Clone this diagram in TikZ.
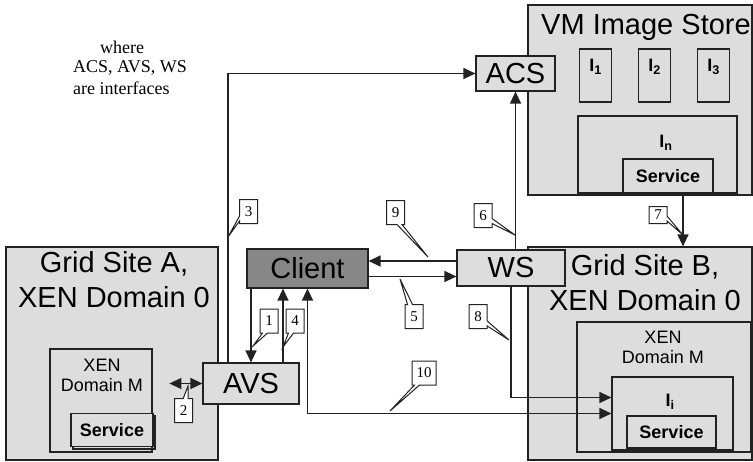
\documentclass[tikz,border=0pt]{standalone}
\usepackage{fontspec}
\setmainfont{Liberation Serif}
\setsansfont{Liberation Sans}
\usepackage{tikz}
\usetikzlibrary{arrows.meta,shapes.callouts}
\definecolor{boxgrey}{HTML}{DDDDDD}
\definecolor{clientgrey}{HTML}{878787}
\definecolor{edgecol}{HTML}{222222}

\begin{document}
\begin{tikzpicture}[x=1pt, y=-1pt,
      greybox/.style={draw=edgecol, line width=1.2pt, fill=boxgrey, inner sep=0pt},
      bigtxt/.style={font=\sffamily\fontsize{29}{35}\selectfont, align=center, inner sep=0pt},
      midtxt/.style={font=\sffamily\fontsize{18}{20}\selectfont, align=center, inner sep=0pt},
      svctxt/.style={font=\sffamily\bfseries\fontsize{18}{20}\selectfont},
      notetxt/.style={font=\fontsize{18}{20}\selectfont, anchor=west, inner sep=0pt},
      tag/.style={rectangle callout, draw=edgecol, line width=1pt, fill=white,
                  font=\fontsize{15}{15}\selectfont, inner sep=1pt,
                  minimum width=18pt, minimum height=24pt, callout pointer width=5pt},
      arr/.style={-{Triangle[length=12pt,width=11pt]}, line width=1.3pt, draw=edgecol},
      arrs/.style={{Triangle[length=12pt,width=11pt]}-{Triangle[length=12pt,width=11pt]},
                   line width=1.3pt, draw=edgecol}]

    \useasboundingbox (0,0) rectangle (753,461);

    % note
    \node[notetxt] (note1) at (100,47) {where};
    \node[notetxt] (note2) at (73,68) {ACS, AVS, WS};
    \node[notetxt] (note3) at (73,88) {are interfaces};

    % image store
    \node[greybox, minimum width=224pt, minimum height=190pt] (store) at (640,100) {};
    \node[bigtxt] (storetitle) at (646,27) {VM Image Store};
    \foreach \x/\i in {595.5/1, 654.5/2, 713.5/3}
    {
      \node[greybox, minimum width=32pt, minimum height=53pt] (img\i) at (\x,75.5) {};
      \node[midtxt, font=\sffamily\bfseries\fontsize{18}{20}\selectfont] at (\x,67) {I\textsubscript{\i}};
    }
    \node[greybox, minimum width=159pt, minimum height=77pt] (imgN) at (657.5,154.5) {};
    \node[midtxt, font=\sffamily\bfseries\fontsize{18}{20}\selectfont] (imgNlab) at (666,143) {I\textsubscript{n}};
    \node[greybox, svctxt, minimum width=90pt, minimum height=34pt] (svcN) at (668,176) {Service};
    \node[greybox, minimum width=79pt, minimum height=35pt, bigtxt] (acs) at (515.5,73.5) {ACS};

    % grid site B
    \node[greybox, minimum width=224pt, minimum height=213pt] (siteB) at (640,353.5) {};
    \node[bigtxt] (siteBtitle) at (645,283) {Grid Site B,\\XEN Domain 0};
    \node[greybox, minimum width=174pt, minimum height=130pt] (domB) at (664,387) {};
    \node[midtxt] (domBlab) at (663,347.5) {XEN\\Domain M};
    \node[greybox, minimum width=121pt, minimum height=73pt] (imgI) at (672.5,413.5) {};
    \node[midtxt, font=\sffamily\bfseries\fontsize{18}{20}\selectfont] (imgIlab) at (670,402) {I\textsubscript{i}};
    \node[greybox, svctxt, minimum width=89pt, minimum height=32pt] (svcI) at (671.5,432) {Service};
    \node[greybox, bigtxt, minimum width=108pt, minimum height=36pt] (ws) at (511,268) {WS};

    % grid site A
    \node[greybox, minimum width=212pt, minimum height=213pt] (siteA) at (112,353.5) {};
    \node[bigtxt] (siteAtitle) at (114,280) {Grid Site A,\\XEN Domain 0};
    \node[greybox, minimum width=102pt, minimum height=103pt] (domA) at (101,400.5) {};
    \node[midtxt] (domAlab) at (102,375) {XEN\\Domain M};
    \draw[edgecol, line width=1.2pt] (73,416) rectangle (155,449);
    \node[greybox, svctxt, minimum width=82pt, minimum height=33pt] (svcA) at (112,430) {Service};
    \node[greybox, bigtxt, minimum width=96pt, minimum height=41pt] (avs) at (251,383.5) {AVS};

    \node[draw=edgecol, line width=1.2pt, fill=clientgrey, bigtxt,
          minimum width=121pt, minimum height=39pt] (client) at (307.5,268.5) {Client};

    % connectors
    \draw[arr] (avs.north |- client.south) -- (avs.north);
    \draw[arrs] ([xshift=-33pt]avs.west) -- (avs.west);
    \draw[arr] ([xshift=-23pt]avs.north) |- (acs.west);
    \draw[arr] ([xshift=32pt]avs.north) -- ([xshift=32pt]avs.north |- client.south);
    \draw[arr] ([yshift=-8pt]client.east) -- ([yshift=-8pt]client.east -| ws.west);
    \draw[arr] (ws.north -| acs.south) -- (acs.south);
    \draw[arr] ([xshift=15pt]svcN.south) -- ([xshift=15pt]svcN.south |- siteB.north);
    \draw[arr] (ws.south) |- ([yshift=16pt]imgI.west);
    \draw[arr] ([yshift=7pt]ws.west) -- ([yshift=7pt]ws.west -| client.east);
    \draw[arrs] (client.south) |- (imgI.west);

    % step tags
    \node[tag, callout absolute pointer={(253,346)}] (t1) at (269,321) {1};
    \node[tag, callout absolute pointer={(188,386)}] (t2) at (183.5,410.5) {2};
    \node[tag, callout absolute pointer={(228,237)}] (t3) at (248.5,211.5) {3};
    \node[tag, callout absolute pointer={(283,347)}] (t4) at (295,321) {4};
    \node[tag, callout absolute pointer={(400,279)}] (t5) at (414,316.5) {5};
    \node[tag, callout absolute pointer={(515,235)}] (t6) at (483,215.5) {6};
    \node[tag, callout absolute pointer={(683,235)}, minimum height=17pt] (t7) at (658,215) {7};
    \node[tag, callout absolute pointer={(509,340)}] (t8) at (478,316.5) {8};
    \node[tag, callout absolute pointer={(428,257)}] (t9) at (395.5,212.5) {9};
    \node[tag, callout absolute pointer={(390,411)}, minimum width=24pt] (t10) at (424,373) {10};
  \end{tikzpicture}
\end{document}
